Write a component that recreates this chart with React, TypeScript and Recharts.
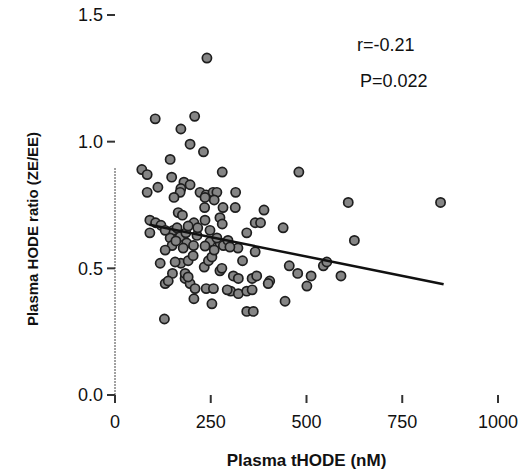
import React from "react";
import { ScatterChart, Scatter, XAxis, YAxis, ReferenceLine, Label } from "recharts";

const tHODE = [
  240, 105, 208, 172, 196, 231, 144, 70, 84, 148, 280, 480, 84, 112, 315, 180, 196, 172, 170, 154,
  222, 238, 256, 266, 259, 235, 609, 850, 234, 282, 314, 389, 165, 176, 206, 235, 274, 280, 91, 106,
  120, 366, 380, 439, 91, 152, 162, 248, 344, 625, 144, 170, 187, 149, 248, 274, 266, 205, 283, 214,
  295, 321, 185, 366, 118, 150, 172, 191, 204, 233, 244, 253, 274, 279, 309, 322, 333, 358, 370, 131,
  139, 183, 196, 209, 238, 257, 206, 253, 302, 322, 344, 358, 455, 477, 544, 553, 512, 501, 590, 404,
  400, 444, 344, 361, 129, 216, 159, 178, 131, 235, 259, 300, 157, 183, 191, 293, 131, 191,
];
const ratio = [
  1.33, 1.09, 1.1, 1.05, 0.99, 0.96, 0.93, 0.89, 0.87, 0.86, 0.88, 0.88, 0.8, 0.82, 0.8, 0.84, 0.83, 0.815, 0.8, 0.78,
  0.8, 0.79, 0.8, 0.8, 0.77, 0.78, 0.76, 0.76, 0.74, 0.74, 0.74, 0.73, 0.72, 0.71, 0.68, 0.69, 0.7, 0.675, 0.69, 0.68,
  0.67, 0.68, 0.68, 0.66, 0.64, 0.65, 0.66, 0.65, 0.64, 0.61, 0.62, 0.625, 0.6, 0.59, 0.605, 0.6, 0.62, 0.59, 0.59, 0.63,
  0.61, 0.58, 0.64, 0.565, 0.52, 0.48, 0.52, 0.53, 0.55, 0.505, 0.53, 0.545, 0.49, 0.5, 0.47, 0.46, 0.53, 0.46, 0.47, 0.44,
  0.45, 0.46, 0.44, 0.42, 0.42, 0.42, 0.38, 0.36, 0.41, 0.4, 0.41, 0.415, 0.51, 0.48, 0.51, 0.525, 0.47, 0.43, 0.47, 0.45,
  0.44, 0.37, 0.33, 0.33, 0.3, 0.66, 0.608, 0.58, 0.572, 0.588, 0.572, 0.584, 0.525, 0.48, 0.466, 0.415, 0.65, 0.667,
];

// regression line end points
const fitX = [90, 858];
const fitY = [0.672, 0.437];

const xTicks = [0, 250, 500, 750, 1000];
const yTicks = [0, 0.5, 1.0, 1.5];

const points = tHODE.map((x, i) => ({ x, y: ratio[i] }));
const fit = fitX.map((x, i) => ({ x, y: fitY[i] }));

const FONT = "'Liberation Sans', Arial, sans-serif";

const Dot = (props: any) => {
  const { cx, cy } = props;
  return <circle cx={cx} cy={cy} r={4.6} fill="#858585" stroke="#1e1e1e" strokeWidth={1.7} />;
};

export default function App() {
  return (
    <div style={{ position: "absolute", left: 0, top: 0, width: 530, height: 476, background: "#fff", fontFamily: FONT }}>
      <ScatterChart width={530} height={476} margin={{ top: 15, right: 32, bottom: 51, left: 55 }}>
        <XAxis
          type="number"
          dataKey="x"
          domain={[0, 1000]}
          ticks={xTicks}
          axisLine={false}
          tickSize={8}
          tickMargin={12}
          tickLine={{ stroke: "#333", strokeWidth: 2 }}
          tick={{ fill: "#111", fontSize: 18, fontFamily: FONT }}
          height={30}
        >
          <Label value="Plasma tHODE (nM)" position="bottom" offset={29} style={{ fill: "#111", fontSize: 17, fontWeight: 700, fontFamily: FONT }} />
        </XAxis>
        <YAxis
          type="number"
          dataKey="y"
          domain={[0, 1.5]}
          ticks={yTicks}
          axisLine={false}
          tickSize={8}
          tickMargin={4}
          tickLine={{ stroke: "#333", strokeWidth: 2 }}
          tickFormatter={(v: number) => v.toFixed(1)}
          tick={{ fill: "#111", fontSize: 18, fontFamily: FONT }}
          width={60}
        >
          <Label
            content={() => (
              <text
                transform="translate(38,229) rotate(-90)"
                textAnchor="middle"
                fill="#111"
                fontSize={15}
                fontWeight={700}
                fontFamily={FONT}
              >
                Plasma HODE ratio (ZE/EE)
              </text>
            )}
          />
        </YAxis>
        <ReferenceLine segment={[{ x: 0, y: 0 }, { x: 0, y: 0.9 }]} stroke="#444" strokeDasharray="2 1" strokeWidth={1} />
        <Scatter data={points} shape={<Dot />} isAnimationActive={false} />
        <Scatter data={fit} line={{ stroke: "#111", strokeWidth: 2.5 }} shape={() => <g />} isAnimationActive={false} />
      </ScatterChart>
      <div style={{ position: "absolute", left: 357, top: 34, fontSize: 18, lineHeight: "22px", color: "#111" }}>r=-0.21</div>
      <div style={{ position: "absolute", left: 360, top: 70, fontSize: 18, lineHeight: "22px", color: "#111" }}>P=0.022</div>
    </div>
  );
}
